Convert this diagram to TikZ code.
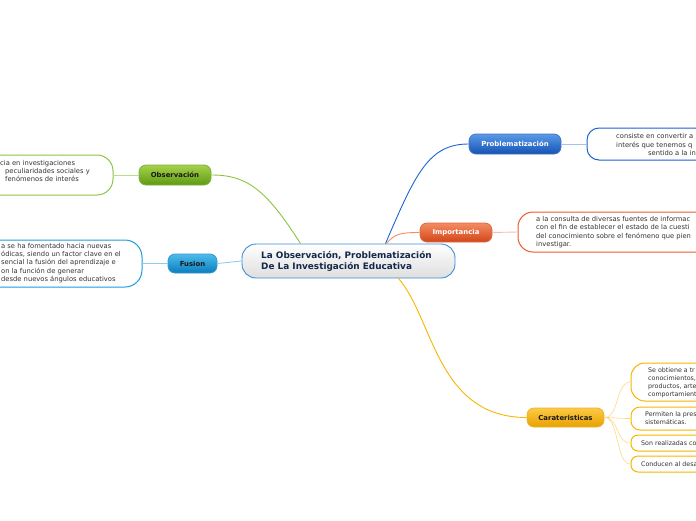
\documentclass[tikz,border=0pt]{standalone}
\usepackage{fontspec}
\setmainfont{DejaVu Sans}
\definecolor{gline}{HTML}{8CC63F}
\definecolor{gtop}{HTML}{A6D24A}
\definecolor{gbot}{HTML}{5E9A12}
\definecolor{fline}{HTML}{1E9BE0}
\definecolor{ftop}{HTML}{4DBCEC}
\definecolor{fbot}{HTML}{0A7DBE}
\definecolor{pline}{HTML}{1E62CF}
\definecolor{ptop}{HTML}{5A9AE6}
\definecolor{pbot}{HTML}{1452B4}
\definecolor{iline}{HTML}{EF5A2A}
\definecolor{itop}{HTML}{F58C62}
\definecolor{ibot}{HTML}{D2461A}
\definecolor{cline}{HTML}{F7B500}
\definecolor{ctop}{HTML}{FCCB45}
\definecolor{cbot}{HTML}{E8A000}
\definecolor{centerline}{HTML}{3A8FD6}
\definecolor{navy}{HTML}{14284A}
\definecolor{txt}{HTML}{333333}
\tikzset{
  pill/.style={draw=#1!80!white, line width=0.8pt, rounded corners=7pt, inner sep=0pt,
    font=\fontsize{6.9}{8}\selectfont\bfseries},
  dbox/.style 2 args={draw=#1, line width=1pt, fill=white, rounded corners=#2, inner sep=0pt},
  dtext/.style={anchor=west, align=left, inner sep=0pt, text=txt,
    font=\fontsize{6.75}{8.4}\selectfont},
  stext/.style={dtext, font=\fontsize{6.3}{8.1}\selectfont},
  conn/.style={line width=0.9pt},
}
\begin{document}
\begin{tikzpicture}[x=1pt,y=-1pt]
\useasboundingbox (0,0) rectangle (696,520);
\clip (0,0) rectangle (696,520);

% ---------- center
\node[draw=centerline, line width=0.9pt, rounded corners=14pt, top color=white, bottom color=black!13,
  minimum width=213pt, minimum height=34pt, inner sep=0pt] (center) at (348.5,261) {};
\node[anchor=west, align=left, inner sep=0pt, text=navy,
  font=\fontsize{8.9}{11}\selectfont\bfseries] (ctitle) at (261,261.5)
  {La Observación, Problematización\\De La Investigación Educativa};

% ---------- main pills
\node[pill=gbot, top color=gtop, bottom color=gbot, minimum width=72pt, minimum height=20pt, text=black!90]
  (obs) at (175,175) {Observación};
\node[pill=fbot, top color=ftop, bottom color=fbot, minimum width=49pt, minimum height=19pt, text=black!90]
  (fus) at (192.5,263.5) {Fusion};
\node[pill=pbot, top color=ptop, bottom color=pbot, minimum width=92pt, minimum height=20pt, text=white]
  (prob) at (515,144) {Problematización};
\node[pill=ibot, top color=itop, bottom color=ibot, minimum width=72pt, minimum height=19pt, text=white]
  (imp) at (456,232.5) {Importancia};
\node[pill=cbot, top color=ctop, bottom color=cbot, minimum width=77pt, minimum height=19pt, text=black!90]
  (car) at (565.5,417.5) {Carateristicas};

% ---------- detail boxes
\node[dbox={gline}{16pt}, minimum width=213pt, minimum height=40pt] (obsd) at (6.5,175) {};
\node[dtext] (obst) at (0,171)
  {cia en investigaciones\\\hspace*{5pt}peculiaridades sociales y\\\hspace*{5pt}fenómenos de interés};

\node[dbox={fline}{17pt}, minimum width=242pt, minimum height=47pt] (fusd) at (21,263.5) {};
\node[dtext] (fust) at (1,263)
  {a se ha fomentado hacia nuevas\\ódicas, siendo un factor clave en el\\sencial la fusión del aprendizaje e\\on la función de generar\\desde nuevos ángulos educativos};

\node[dbox={pline}{12pt}, minimum width=213pt, minimum height=32pt] (probd) at (693.5,144) {};
\node[dtext] (probt) at (616,144.5)
  {consiste en convertir a\\interés que tenemos q\\\hspace*{32pt}sentido a la in};

\node[dbox={iline}{15pt}, minimum width=282pt, minimum height=40pt] (impd) at (659,232) {};
\node[dtext] (impt) at (536,232)
  {a la consulta de diversas fuentes de informac\\con el fin de establecer el estado de la cuesti\\del conocimiento sobre el fenómeno que pien\\investigar.};

\node[dbox={cline}{14pt}, minimum width=169pt, minimum height=38pt] (c1) at (715.5,382) {};
\node[stext] (c1t) at (648,382.5)
  {Se obtiene a tr\\conocimientos,\\productos, arte\\comportamient};
\node[dbox={cline}{9pt}, minimum width=169pt, minimum height=23pt] (c2) at (715.5,418.5) {};
\node[stext] (c2t) at (645,418.5) {Permiten la pres\\sistemáticas.};
\node[dbox={cline}{7pt}, minimum width=169pt, minimum height=16pt] (c3) at (715.5,443) {};
\node[stext] (c3t) at (641,443) {Son realizadas co};
\node[dbox={cline}{7pt}, minimum width=169pt, minimum height=16pt] (c4) at (715.5,464) {};
\node[stext] (c4t) at (641,464) {Conducen al desa};

% ---------- connectors from center
\draw[conn, gline] ([xshift=-48pt]center.north) .. controls +(-35,-55) and +(35,0) .. (obs.east);
\draw[conn, pline] ([xshift=37pt]center.north) .. controls +(30,-70) and +(-40,0) .. (prob.west);
\draw[conn, itop] ([xshift=38pt]center.north) .. controls +(8,-10) and +(-18,0) .. (imp.west);
\draw[conn, cline] ([xshift=50pt]center.south) .. controls +(35,40) and +(-90,0) .. (car.west);
\draw[conn, fline!50] (center.west) -- (fus.east);

% ---------- connectors to details
\draw[conn, gline!60] (obs.west) -- (obsd.east);
\draw[conn, fline!50] (fus.west) -- (fusd.east);
\draw[conn, pline!40] (prob.east) -- (probd.west);
\draw[conn, iline!40] (imp.east) -- (impd.west);
\draw[line width=0.6pt, cline!50] (car.east) .. controls +(15,0) and +(-15,0) .. (c1.west);
\draw[line width=0.6pt, cline!50] (car.east) .. controls +(15,0) and +(-15,0) .. (c2.west);
\draw[line width=0.6pt, cline!50] (car.east) .. controls +(15,0) and +(-15,0) .. (c3.west);
\draw[line width=0.6pt, cline!50] (car.east) .. controls +(15,0) and +(-15,0) .. (c4.west);
\end{tikzpicture}
\end{document}
